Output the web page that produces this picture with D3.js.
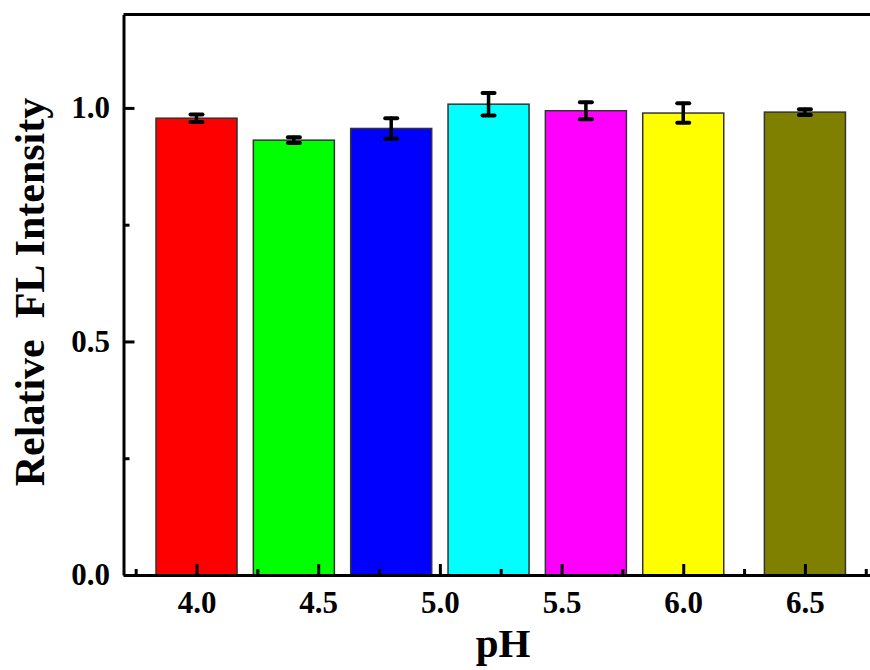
<!DOCTYPE html>
<html><head><meta charset="utf-8">
<script src="https://cdn.jsdelivr.net/npm/d3@7"></script>
<style>body{margin:0;background:#fff}svg{display:block}</style>
</head><body>
<script>
const phPositions = [4.0, 4.4, 4.8, 5.2, 5.6, 6.0, 6.5];
const values = [0.978, 0.931, 0.956, 1.008, 0.994, 0.989, 0.991];
const errors = [0.008, 0.006, 0.022, 0.024, 0.018, 0.021, 0.006];
const colors = ["#ff0000", "#00ff00", "#0000ff", "#00ffff", "#ff00ff", "#ffff00", "#808000"];
const xMajorTicks = [4.0, 4.5, 5.0, 5.5, 6.0, 6.5];
const xMinorTicks = [3.75, 4.25, 4.75, 5.25, 5.75, 6.25, 6.75];
const yMajorTicks = [0.0, 0.5, 1.0];
const yMinorTicks = [0.25, 0.75];
const barWidthUnits = 0.333;

(function () {
const W = 870, H = 670;
const mLeft = 123.5, mTop = 14.5, mBottom = 575;
const svg = d3.select("body").append("svg").attr("width", W).attr("height", H);

const x = d3.scaleLinear().domain([3.7, 7.0]).range([mLeft, 926.6]);
const y = d3.scaleLinear().domain([0, 1.2]).range([mBottom, mTop]);
const font = "'Liberation Serif','Times New Roman',Tinos,serif";

const bw = x(4 + barWidthUnits) - x(4);
svg.append("g").selectAll("rect").data(values).join("rect")
  .attr("x", (d, i) => x(phPositions[i]) - bw / 2)
  .attr("y", d => y(d))
  .attr("width", bw)
  .attr("height", d => y(0) - y(d))
  .attr("fill", (d, i) => colors[i])
  .attr("stroke", "#333")
  .attr("stroke-width", 1.5);

const eg = svg.append("g").attr("stroke", "#000").attr("stroke-width", 3.5).attr("stroke-linecap", "round");
values.forEach((v, i) => {
  const cx = x(phPositions[i]);
  eg.append("line").attr("x1", cx).attr("x2", cx).attr("y1", y(v - errors[i])).attr("y2", y(v + errors[i]));
  [v - errors[i], v + errors[i]].forEach(e => {
    eg.append("line").attr("x1", cx - 6).attr("x2", cx + 6).attr("y1", y(e)).attr("y2", y(e)).attr("stroke-width", 4);
  });
});

svg.append("line").attr("x1", mLeft).attr("x2", W).attr("y1", mTop).attr("y2", mTop)
  .attr("stroke", "#000").attr("stroke-width", 3);

const xAxis = svg.append("g").attr("transform", `translate(0,${mBottom})`)
  .call(d3.axisBottom(x).tickValues(xMajorTicks).tickFormat(d3.format(".1f")).tickSizeInner(-11).tickSizeOuter(0));
xAxis.select(".domain").attr("stroke-width", 3);
xAxis.selectAll(".tick line").attr("stroke-width", 3);
xAxis.selectAll("text").attr("y", 38).attr("dy", "0")
  .style("font-family", font).style("font-weight", "bold").style("font-size", "31px").attr("fill", "#000");
const xMinor = svg.append("g").attr("transform", `translate(0,${mBottom})`)
  .call(d3.axisBottom(x).tickValues(xMinorTicks).tickFormat("").tickSizeInner(-6).tickSizeOuter(0));
xMinor.select(".domain").remove();
xMinor.selectAll(".tick line").attr("stroke-width", 3);

const yAxis = svg.append("g").attr("transform", `translate(${mLeft},0)`)
  .call(d3.axisLeft(y).tickValues(yMajorTicks).tickFormat(d3.format(".1f")).tickSizeInner(-11).tickSizeOuter(0));
yAxis.select(".domain").attr("stroke-width", 3);
yAxis.selectAll(".tick line").attr("stroke-width", 3);
yAxis.selectAll("text").attr("x", -13.5).attr("dy", "0.32em")
  .style("font-family", font).style("font-weight", "bold").style("font-size", "31px").attr("fill", "#000");
const yMinor = svg.append("g").attr("transform", `translate(${mLeft},0)`)
  .call(d3.axisLeft(y).tickValues(yMinorTicks).tickFormat("").tickSizeInner(-6).tickSizeOuter(0));
yMinor.select(".domain").remove();
yMinor.selectAll(".tick line").attr("stroke-width", 3);

svg.append("text").attr("x", 503).attr("y", 657).attr("text-anchor", "middle")
  .style("font-family", font).style("font-weight", "bold").style("font-size", "41px").text("pH");
svg.append("text").attr("transform", "translate(43.5,292) rotate(-90)").attr("text-anchor", "middle")
  .style("font-family", font).style("font-weight", "bold").style("font-size", "42px")
  .style("white-space", "pre").text("Relative  FL Intensity");
})();
</script>
</body></html>
